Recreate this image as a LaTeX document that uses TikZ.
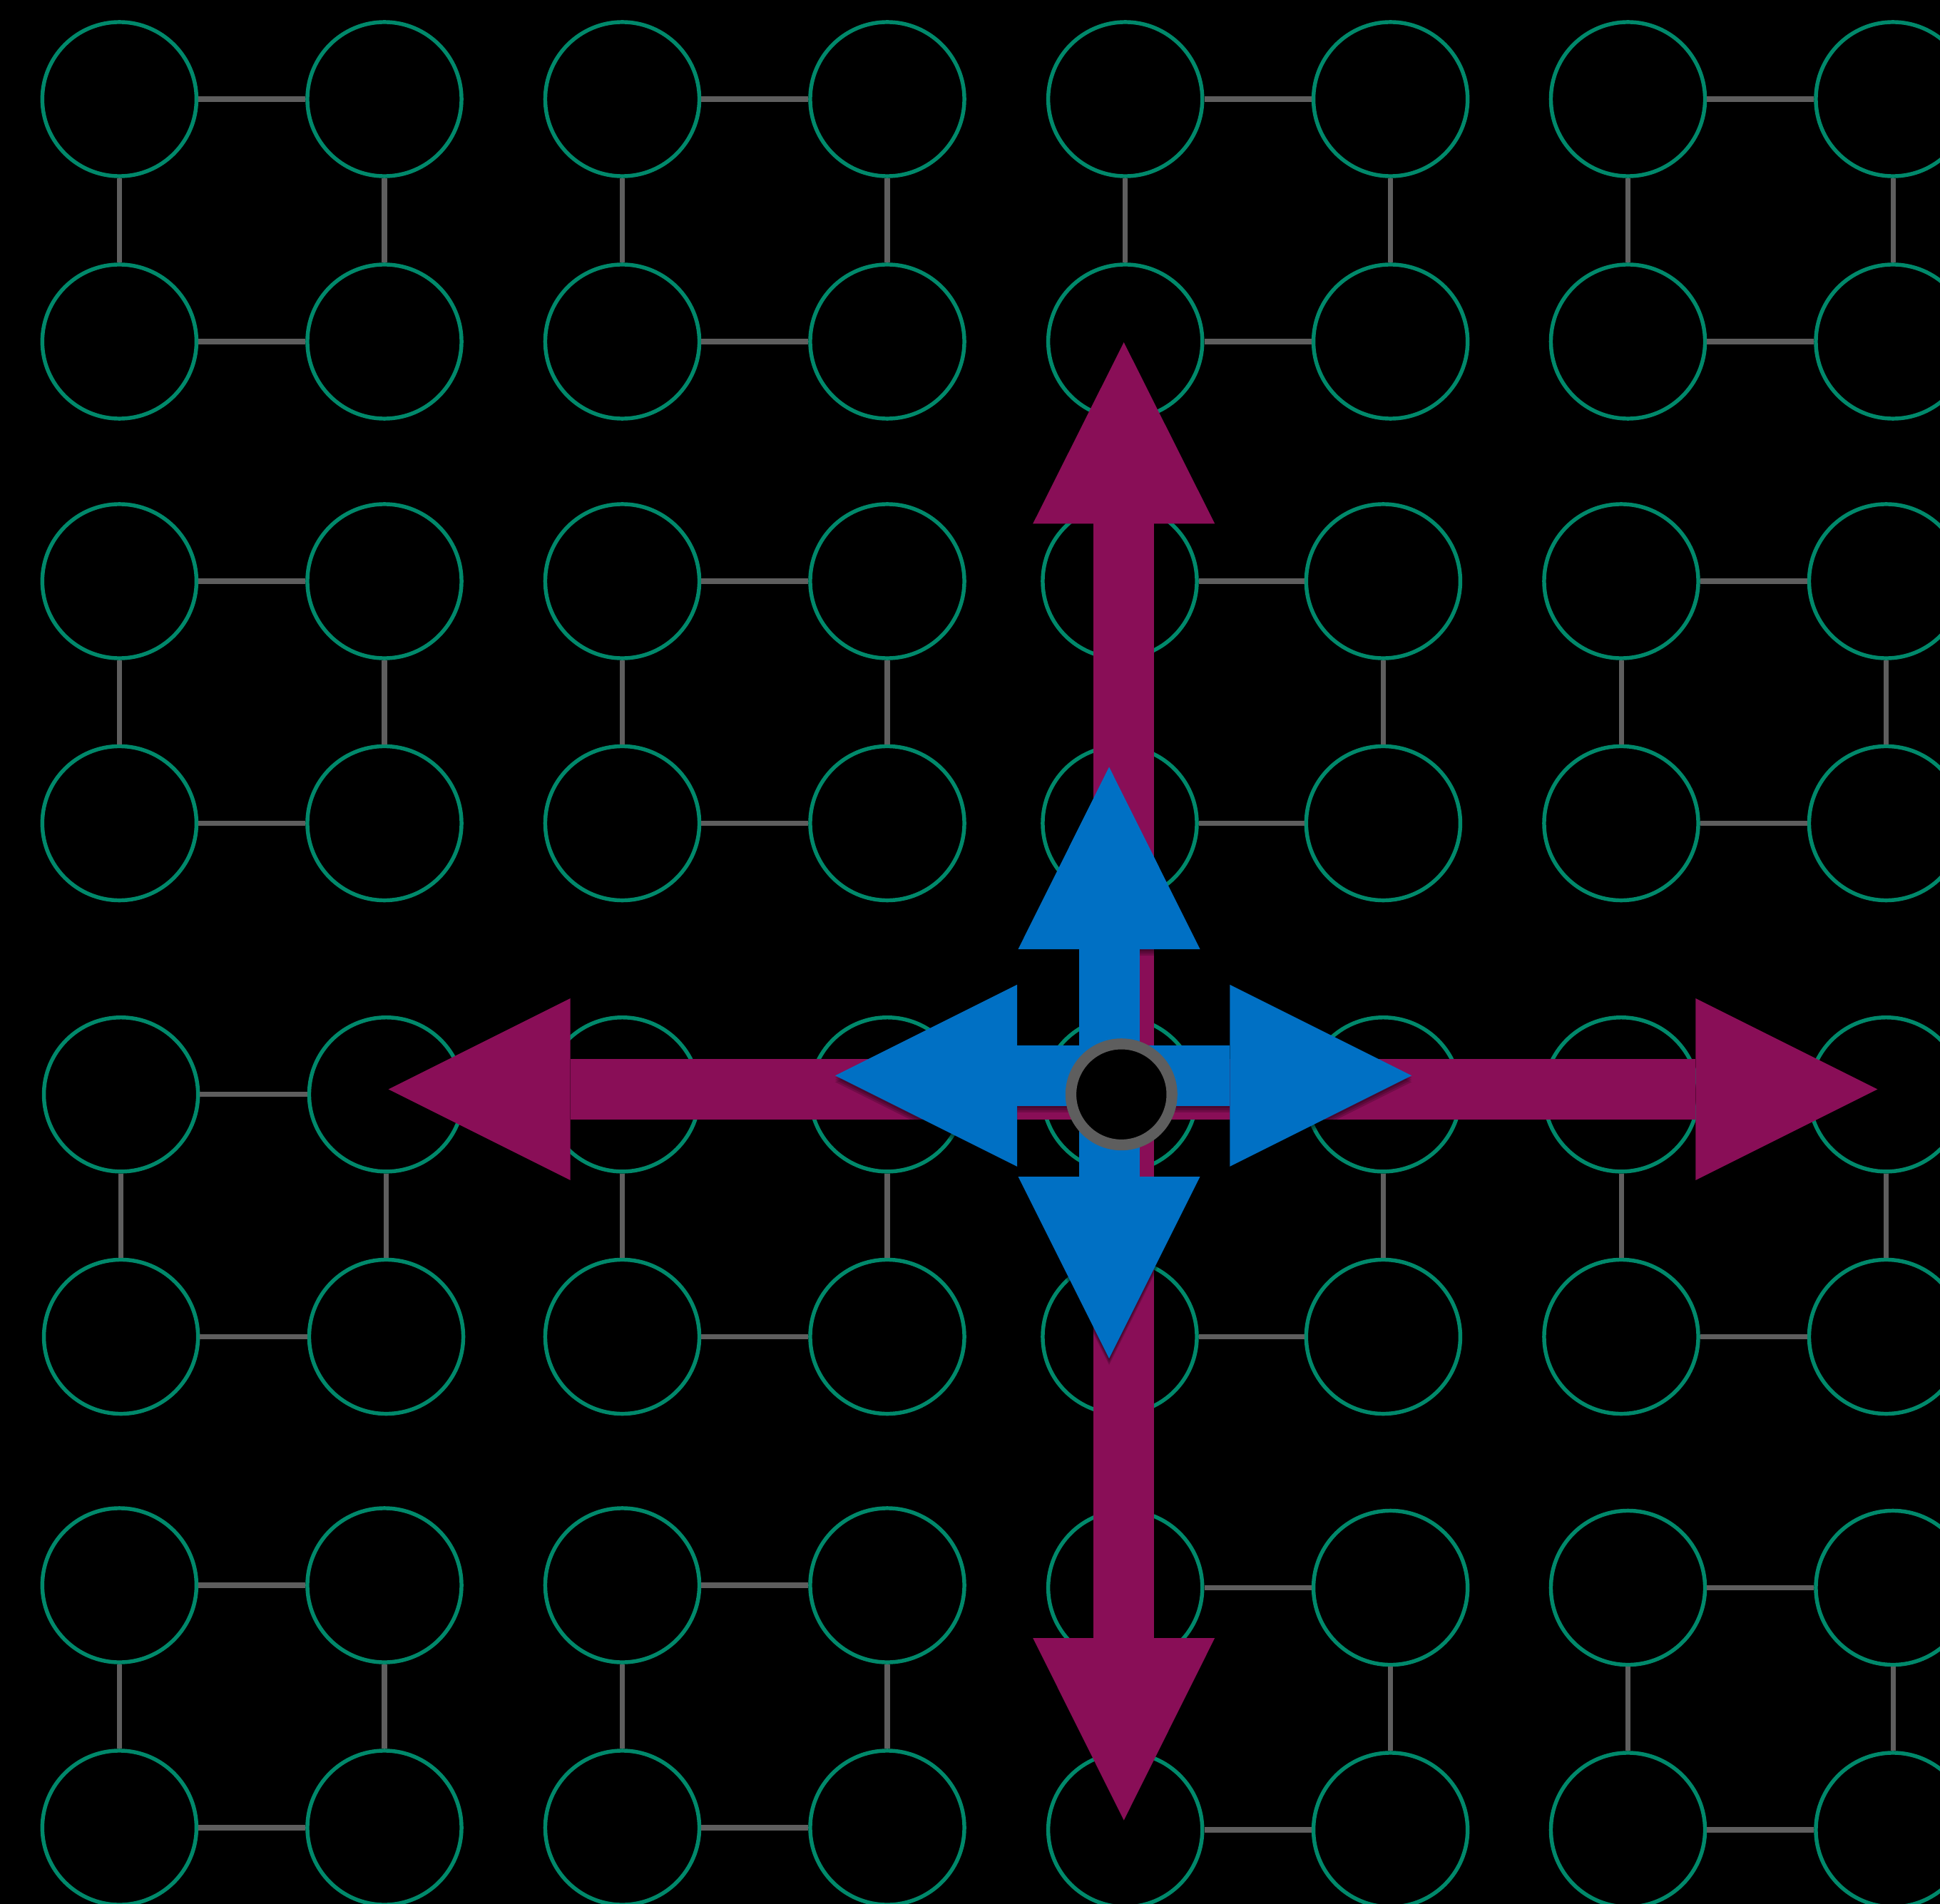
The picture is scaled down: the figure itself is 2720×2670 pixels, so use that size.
\documentclass[tikz,border=0pt]{standalone}
\begin{document}
\begin{tikzpicture}[x=0.01cm,y=-0.01cm]
\definecolor{ringgreen}{RGB}{0,137,107}
\definecolor{linkgray}{RGB}{94,94,94}
\definecolor{magarrow}{RGB}{137,14,87}
\definecolor{bluarrow}{RGB}{0,112,196}
\tikzset{
  cell/.style={circle, draw=ringgreen, line width=1.55pt, inner sep=0pt, minimum size=2.16cm},
  link/.style={draw=linkgray, line width=2pt},
  hubstyle/.style={circle, draw=linkgray, fill=black, line width=4.35pt, inner sep=0pt, minimum size=1.416cm},
  magfill/.style={fill=magarrow},
  blufill/.style={fill=bluarrow},
  shadowfill/.style={fill=black, fill opacity=0.18}
}
\fill[black] (0,0) rectangle (2720,2670);
\useasboundingbox (0,0) rectangle (2720,2670);
\clip (0,0) rectangle (2720,2670);
% grid of 2x2 ring blocks
\foreach \n/\xa/\xb/\ya/\yb in {
  11/167.4/539/139/479, 12/872.5/1244/139/479, 13/1577.7/1949.6/139/479, 14/2282.5/2654/139/479,
  21/167.4/539/815/1154.5, 22/872.5/1244/815/1154.5, 23/1570/1939.4/815/1154.5, 24/2273/2644.5/815/1154.5,
  31/169.6/541.5/1534.8/1874.5, 32/872.5/1244/1534.8/1874.5, 33/1570/1939.4/1534.8/1874.5, 34/2273/2644.5/1534.8/1874.5,
  41/167.4/539/2223/2563, 42/872.5/1244/2223/2563, 43/1577.7/1949.6/2226.5/2566, 44/2282.5/2654/2226.5/2566}
{
  \node[cell] (n\n-a) at (\xa,\ya) {};
  \node[cell] (n\n-b) at (\xb,\ya) {};
  \node[cell] (n\n-c) at (\xa,\yb) {};
  \node[cell] (n\n-d) at (\xb,\yb) {};
  \draw[link] (n\n-a) -- (n\n-b);
  \draw[link] (n\n-c) -- (n\n-d);
  \draw[link] (n\n-a) -- (n\n-c);
  \draw[link] (n\n-b) -- (n\n-d);
}
% magenta arrows
\fill[magfill] (1533.2,734.3) rectangle (1618.2,2297);
\fill[magfill] (799.7,1485) rectangle (2377.3,1570);
\fill[magfill] (1448.2,734.3) -- (1575.7,480) -- (1703.2,734.3) -- cycle;
\fill[magfill] (1448.2,2297) -- (1575.7,2552.6) -- (1703.2,2297) -- cycle;
\fill[magfill] (799.7,1400) -- (544.6,1527.5) -- (799.7,1655) -- cycle;
\fill[magfill] (2377.3,1400) -- (2632.3,1527.5) -- (2377.3,1655) -- cycle;
% soft shadow of the blue arrows
\foreach \d in {3,6,9} {
  \begin{scope}[yshift=-\d*0.01cm]
    \fill[shadowfill] (1512.5,1331) rectangle (1597.5,1650);
    \fill[shadowfill] (1426,1465.8) rectangle (1724.3,1550.8);
    \fill[shadowfill] (1427.5,1331) -- (1555,1075.5) -- (1682.5,1331) -- cycle;
    \fill[shadowfill] (1427.5,1650) -- (1555,1905) -- (1682.5,1650) -- cycle;
    \fill[shadowfill] (1426,1380.8) -- (1171,1508.3) -- (1426,1635.8) -- cycle;
    \fill[shadowfill] (1724.3,1380.8) -- (1979.3,1508.3) -- (1724.3,1635.8) -- cycle;
  \end{scope}
}
% blue arrows
\fill[blufill] (1512.5,1331) rectangle (1597.5,1650);
\fill[blufill] (1426,1465.8) rectangle (1724.3,1550.8);
\fill[blufill] (1427.5,1331) -- (1555,1075.5) -- (1682.5,1331) -- cycle;
\fill[blufill] (1427.5,1650) -- (1555,1905) -- (1682.5,1650) -- cycle;
\fill[blufill] (1426,1380.8) -- (1171,1508.3) -- (1426,1635.8) -- cycle;
\fill[blufill] (1724.3,1380.8) -- (1979.3,1508.3) -- (1724.3,1635.8) -- cycle;
% centre
\node[hubstyle] (hub) at (1572.3,1534.7) {};
\end{tikzpicture}
\end{document}
